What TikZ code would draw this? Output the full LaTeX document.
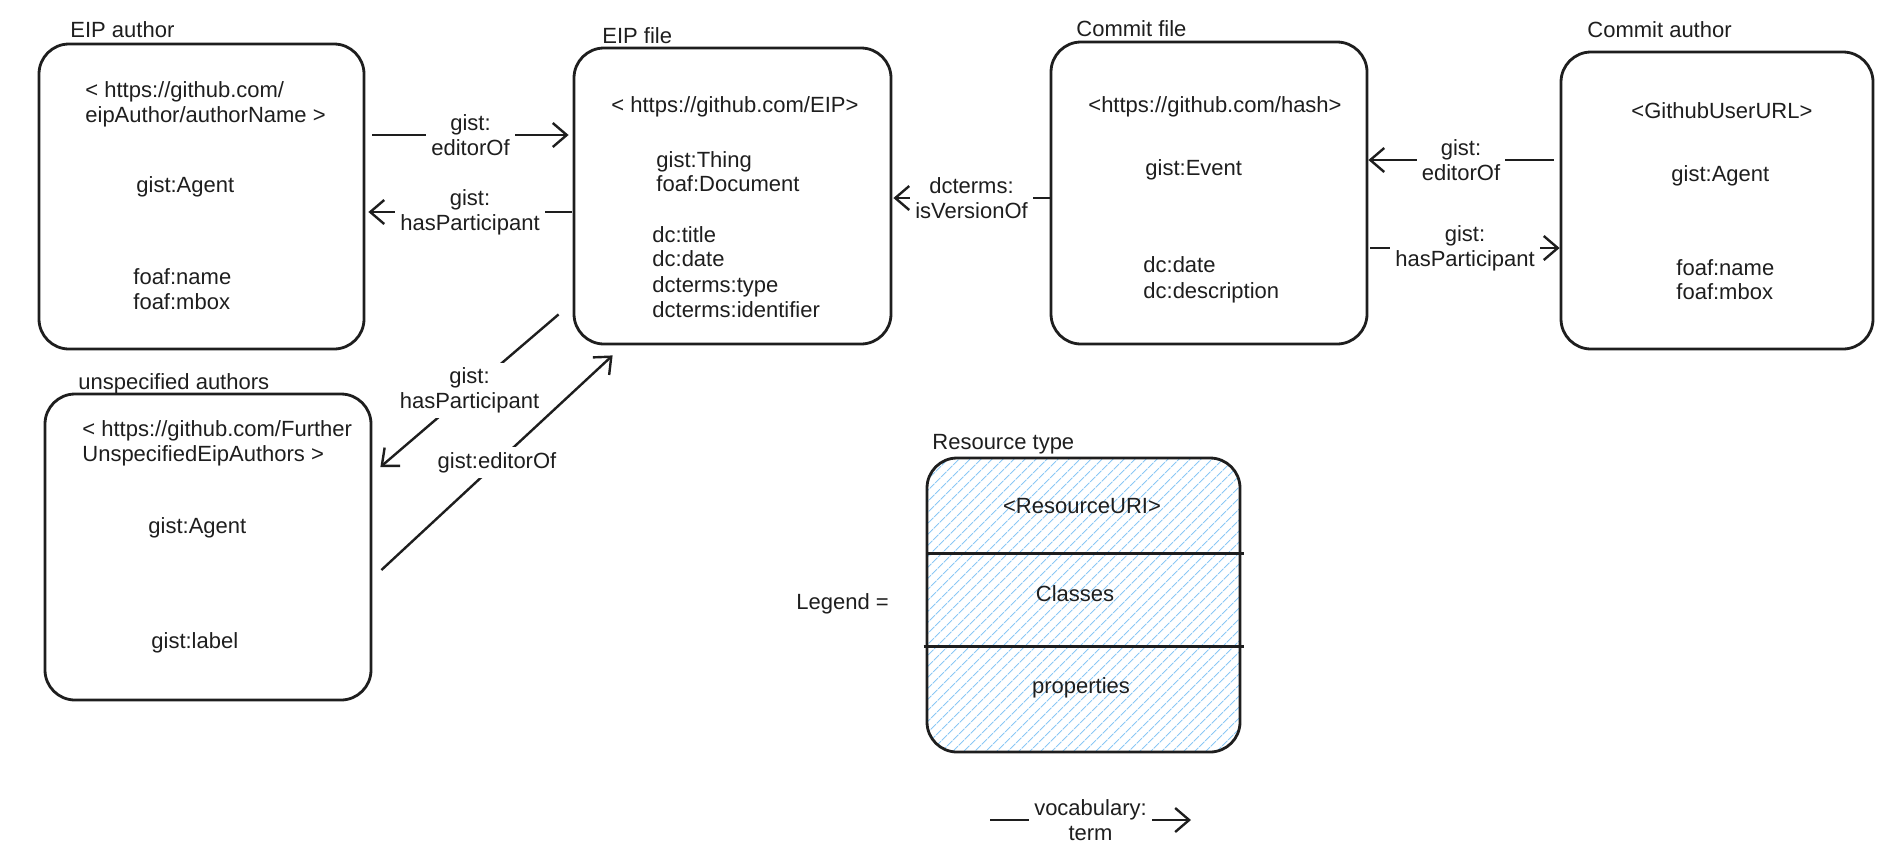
\documentclass[tikz,border=0pt]{standalone}
\usepackage{fontspec}
\setmainfont{Liberation Sans}
\usetikzlibrary{arrows.meta,calc,patterns.meta}
\definecolor{ink}{HTML}{1E1E1E}
\definecolor{hatch}{HTML}{8CC8F5}
\begin{document}
\begin{tikzpicture}[x=0.5pt,y=-0.5pt,
  font=\fontsize{11}{12.5}\selectfont, color=ink,
  box/.style={draw=ink, line width=1.4pt, rounded corners=15pt, inner sep=0pt},
  txt/.style={anchor=base west, inner sep=0pt, text=ink},
  ctxt/.style={anchor=base, inner sep=0pt, text=ink},
  lbl/.style={fill=white, align=center, inner sep=2.5pt, text=ink},
  conn/.style={draw=ink, line width=1.2pt, -{Straight Barb[length=7pt,width=12pt]}}
]
\useasboundingbox (0,0) rectangle (1900,858);

% boxes
\node[box, minimum width=162.5pt, minimum height=152.5pt] (eipauthor) at (201.5,196.5) {};
\node[box, minimum width=158.5pt, minimum height=148pt] (eipfile) at (732.5,196) {};
\node[box, minimum width=158pt, minimum height=151pt] (commitfile) at (1209,193) {};
\node[box, minimum width=156pt, minimum height=148.5pt] (commitauthor) at (1717,200.5) {};
\node[box, minimum width=163pt, minimum height=153pt] (unspec) at (208,547) {};
\node[box, pattern={Lines[angle=45,distance=4pt,line width=0.5pt]}, pattern color=hatch,
      minimum width=156.5pt, minimum height=147pt] (legend) at (1083.5,605) {};
\draw[ink, line width=1.5pt] ($(legend.west)+(0,-52)$) -- ($(legend.east)+(3,-52)$);
\draw[ink, line width=1.5pt] ($(legend.west)+(-3,41.5)$) -- ($(legend.east)+(3,41.5)$);

% titles
\node[txt] (t_ea) at (70,37) {EIP author};
\node[txt] (t_ef) at (602,43) {EIP file};
\node[txt] (t_cf) at (1076,36) {Commit file};
\node[txt] (t_ca) at (1587,37) {Commit author};
\node[txt] (t_ua) at (78,389) {unspecified authors};
\node[txt] (t_rt) at (932,449) {Resource type};

% EIP author contents
\node[txt] (ea1) at (85,97) {< https://github.com/};
\node[txt] (ea2) at (85,122) {eipAuthor/authorName >};
\node[txt] (ea3) at (136,192) {gist:Agent};
\node[txt] (ea4) at (133,284) {foaf:name};
\node[txt] (ea5) at (133,309) {foaf:mbox};

% EIP file contents
\node[txt] (ef1) at (611,112) {< https://github.com/EIP>};
\node[txt] (ef2) at (656,167) {gist:Thing};
\node[txt] (ef3) at (656,191) {foaf:Document};
\node[txt] (ef4) at (652,242) {dc:title};
\node[txt] (ef5) at (652,266) {dc:date};
\node[txt] (ef6) at (652,292) {dcterms:type};
\node[txt] (ef7) at (652,317) {dcterms:identifier};

% Commit file contents
\node[txt] (cf1) at (1088,112) {<https://github.com/hash>};
\node[txt] (cf2) at (1145,175) {gist:Event};
\node[txt] (cf3) at (1143,272) {dc:date};
\node[txt] (cf4) at (1143,298) {dc:description};

% Commit author contents
\node[txt] (ca1) at (1631,118) {<GithubUserURL>};
\node[txt] (ca2) at (1671,181) {gist:Agent};
\node[txt] (ca3) at (1676,275) {foaf:name};
\node[txt] (ca4) at (1676,299) {foaf:mbox};

% unspecified authors contents
\node[txt] (ua1) at (82,436) {< https://github.com/Further};
\node[txt] (ua2) at (82,461) {UnspecifiedEipAuthors >};
\node[txt] (ua3) at (148,533) {gist:Agent};
\node[txt] (ua4) at (151,648) {gist:label};

% legend contents
\node[ctxt] (lg1) at (1082,513) {<ResourceURI>};
\node[ctxt] (lg2) at (1075,601) {Classes};
\node[ctxt] (lg3) at (1081,693) {properties};
\node[txt] (lgeq) at (796,609) {Legend =};

% connectors
\draw[conn] ($(eipauthor.east)+(7,-61.5)$) -- node[lbl] (c1) {gist:\\editorOf} ($(eipfile.west)+(-4,-61)$);
\draw[conn] ($(eipfile.west)+(-1,16)$) -- node[lbl] (c2) {gist:\\hasParticipant} ($(eipauthor.east)+(3,15.5)$);
\draw[conn] ($(commitfile.west)+(0,5)$) -- node[lbl] (c3) {dcterms:\\isVersionOf} ($(eipfile.east)+(1,2)$);
\draw[conn] ($(commitauthor.west)+(-6,-40.5)$) -- node[lbl] (c4) {gist:\\editorOf} ($(commitfile.east)+(0,-33)$);
\draw[conn] ($(commitfile.east)+(2,55)$) -- node[lbl] (c5) {gist:\\hasParticipant} ($(commitauthor.west)+(0,47.5)$);
\draw[conn] ($(eipfile.south west)+(-14,-31)$) -- node[lbl] (c6) {gist:\\hasParticipant} ($(unspec.east)+(8,-80)$);
\draw[conn] ($(unspec.east)+(9,23)$) -- node[lbl] (c7) {gist:editorOf} ($(eipfile.south west)+(40,10)$);

% legend connector
\coordinate (la) at (990,820);
\coordinate (lb) at (1191,820);
\draw[conn] (la) -- node[lbl] (lgc) {vocabulary:\\term} (lb);
\end{tikzpicture}
\end{document}
